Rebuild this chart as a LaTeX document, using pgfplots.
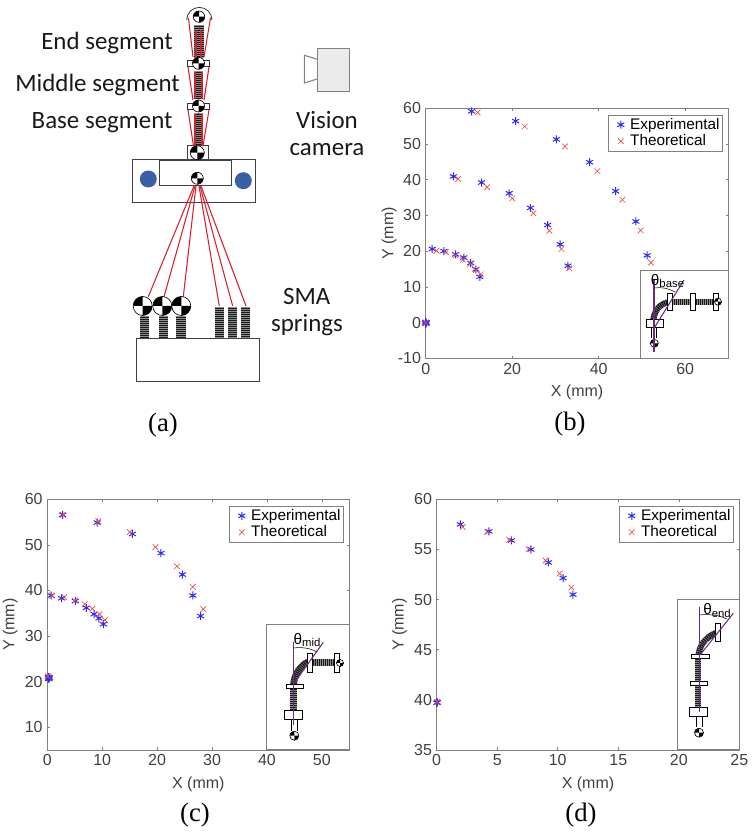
\documentclass[border=0pt]{standalone}
\usepackage{fontspec}
\setmainfont{Liberation Sans}
\newfontfamily\calibri{Carlito}
\newfontfamily\timesf{Liberation Serif}
\usepackage{pgfplots}
\pgfplotsset{compat=1.18}

\definecolor{axgray}{HTML}{808080}
\definecolor{ticktxt}{HTML}{404040}
\definecolor{expblue}{HTML}{2A2AF0}
\definecolor{thered}{HTML}{F04848}
\definecolor{sred}{HTML}{D8202C}
\definecolor{dotblue}{HTML}{3A5FA5}
\definecolor{purp}{HTML}{6B2A80}

\pgfplotsset{
  panel/.style={
    scale only axis,
    clip=false,
    axis line style={axgray,line width=0.6pt},
    tick style={axgray,line width=0.4pt},
    major tick length=2pt,
    tick align=inside,
    tick pos=both,
    /pgf/number format/assume math mode=true,
    tick label style={font=\fontsize{12}{12}\selectfont,text=ticktxt},
    label style={font=\fontsize{12}{12}\selectfont,text=ticktxt},
    xlabel={X (mm)},
    ylabel={Y (mm)},
    xlabel style={yshift=-1pt},
    ylabel style={yshift=-1.5pt},
    legend cell align=left,
    legend style={
      at={(0.981,0.975)},anchor=north east,
      draw=axgray,line width=0.5pt,
      font=\fontsize{11.5}{12}\selectfont,
      inner xsep=0pt,inner ysep=0.5pt,
      row sep=-1.5pt,
      /tikz/every even column/.append style={column sep=1pt},
    },
    legend image code/.code={
      \path[draw=none] (0pt,0pt) -- (14pt,0pt);
      \draw[##1,draw=none] plot coordinates {(9pt,0pt)};
    },
  },
  expm/.style={only marks,mark=asterisk,mark size=3pt,expblue,mark options={line width=0.75pt,draw=expblue}},
  them/.style={only marks,mark=x,mark size=3pt,thered,mark options={line width=0.5pt,draw=thered}},
}
\tikzset{
  coil/.style={line width=#1,black!90,postaction={draw,black!45,dash pattern=on 0.3pt off 1.2pt}},
  sk/.style={draw=black!75,line width=0.7pt},
}
% checker target: x y r
\newcommand{\chk}[3]{%
  \fill[white] (#1,#2) circle (#3);
  \fill[black] (#1,#2) -- ++(-#3,0) arc[start angle=180,end angle=270,radius=#3] -- cycle;
  \fill[black] (#1,#2) -- ++(#3,0) arc[start angle=0,end angle=90,radius=#3] -- cycle;
  \draw[black,line width=0.5pt] (#1,#2) circle (#3);
}

\begin{document}
\begin{tikzpicture}[x=0.75pt,y=0.75pt]
\path[use as bounding box] (0,0) rectangle (755,836);

% (b)
\begin{axis}[panel,at={(319.3pt,358.3pt)},anchor=south west,width=227pt,height=187.5pt,
  xmin=0,xmax=70,ymin=-10,ymax=60,xtick={0,20,40,60},ytick={-10,0,...,60},
  ylabel style={yshift=-4.5pt}]
\addplot[expm] coordinates {
  (0,-0.3) (0.1,0) (0,0.1) (0.1,-0.2)
  (1.5,20.6) (4.2,20.0) (6.9,19.1) (8.8,18.2) (10.4,16.7) (11.6,14.9) (12.5,12.8)
  (6.4,40.9) (12.9,39.2) (19.3,36.2) (24.2,32.1) (28.2,27.3) (31.1,21.9) (32.9,15.9)
  (10.6,59.15) (20.8,56.4) (30.2,51.3) (37.9,44.9) (43.9,36.8) (48.6,28.3) (51.2,18.8)
};
\addlegendentry{Experimental}
\addplot[them] coordinates {
  (0,0)
  (2.5,20.1) (4.7,19.7) (6.9,18.8) (8.6,17.6) (10.3,16.4) (11.6,14.7) (12.7,13.5)
  (7.5,40.2) (14.2,37.9) (20.0,34.8) (24.9,30.6) (28.6,25.7) (31.4,20.6) (33.2,15.2)
  (12.0,58.8) (22.9,54.9) (32.2,49.3) (39.7,42.4) (45.5,34.4) (49.7,25.8) (52.1,16.8)
};
\addlegendentry{Theoretical}
\end{axis}

% (c)
\begin{axis}[panel,at={(35.5pt,64.5pt)},anchor=south west,width=226.5pt,height=188pt,
  xmin=0,xmax=55,ymin=5,ymax=60,xtick={0,10,...,50},ytick={10,20,...,60}]
\addplot[expm] coordinates {
  (0.2,21.0) (0.3,20.6) (0.4,20.9) (0.2,20.7)
  (0.7,38.9) (2.6,38.3) (5.1,37.7) (7.1,36.2) (8.5,34.8) (9.4,33.9) (10.2,32.6)
  (2.8,56.6) (9.07,54.9) (15.5,52.4) (20.7,48.2) (24.6,43.5) (26.5,38.9) (27.9,34.4)
};
\addlegendentry{Experimental}
\addplot[them] coordinates {
  (0.1,21.2)
  (0.86,38.9) (3.1,38.5) (5.0,37.8) (6.8,37.0) (8.2,36.0) (9.5,34.8) (10.5,33.5)
  (2.8,56.6) (9.3,55.2) (15.0,52.8) (19.7,49.5) (23.6,45.3) (26.5,40.8) (28.4,35.9)
};
\addlegendentry{Theoretical}
\end{axis}

% (d)
\begin{axis}[panel,at={(327.5pt,64.5pt)},anchor=south west,width=227pt,height=188pt,
  xmin=0,xmax=25,ymin=35,ymax=60,xtick={0,5,...,25},ytick={35,40,...,60}]
\addplot[expm] coordinates {
  (0.02,39.7) (0.05,39.75)
  (1.95,57.5) (4.32,56.8) (6.17,55.9) (7.79,55.0) (9.23,53.7) (10.44,52.15) (11.26,50.5)
};
\addlegendentry{Experimental}
\addplot[them] coordinates {
  (0.05,39.8)
  (2.15,57.24) (4.18,56.74) (6.0,55.97) (7.6,55.04) (9.0,53.9) (10.16,52.6) (11.13,51.2)
};
\addlegendentry{Theoretical}
\end{axis}

% everything below uses reference pixel coordinates
\begin{scope}[shift={(0,836)},yscale=-1]

% insets
\begin{scope}[line width=0.6pt]
  % base
  \draw[axgray,fill=white] (640,270.7) rectangle (728.3,358.3);
  \draw[black,line width=0.4pt] (651.5,328) -- (651.5,338) (656.5,328) -- (656.5,338);
  \draw[coil=4.5pt] (653,322) .. controls (654,311) and (659,304) .. (669,302);
  \draw[coil=4.5pt] (669,301.7) -- (716,301.7);
  \foreach \xx in {669.3,692.3,716}{\draw[black,fill=white,line width=0.4pt] (\xx-2.5,293.7) rectangle (\xx+2.5,310.5);}
  \draw[black,fill=white,line width=0.5pt] (646.7,319.3) rectangle (663.3,327.3);
  \chk{718}{301.7}{3.5}
  \chk{654.3}{343.3}{4}
  \draw[purp,line width=0.8pt] (654,280) -- (654,351.7);
  \draw[purp,line width=0.8pt] (655,326.7) -- (684,280);
  \draw[black,line width=0.4pt] (654,288) .. controls (661,287) and (668,288) .. (675,292);
  \node[font=\fontsize{11.5}{12}\selectfont,black] at (667.5,281) {θ\raisebox{-2pt}{\fontsize{8.5}{9}\selectfont base}};

  % mid
  \draw[axgray,fill=white] (266,624.3) rectangle (349.3,749.7);
  \draw[black,line width=0.4pt] (291,720) -- (291,731) (297,720) -- (297,731);
  \draw[coil=5pt] (293.5,718) -- (293.5,688);
  \draw[coil=5pt] (293.5,685) .. controls (294,675) and (300,665) .. (310,661);
  \draw[coil=5pt] (310,662.5) -- (336,662.5);
  \draw[black,fill=white,line width=0.5pt] (284,710.7) rectangle (302,719.3);
  \draw[black,fill=white,line width=0.4pt] (286,684.3) rectangle (303.3,688.3);
  \draw[black,fill=white,line width=0.4pt] (307,653) rectangle (312,672);
  \draw[black,fill=white,line width=0.4pt] (334,653) rectangle (339,672);
  \chk{340}{663}{3.5}
  \chk{294.3}{735.7}{4.5}
  \draw[purp,line width=0.8pt] (293.3,641.7) -- (293.3,725);
  \draw[purp,line width=0.8pt] (294.3,683) -- (323.3,642.3);
  \draw[black,line width=0.4pt] (293.5,648) .. controls (302,647) and (310,648) .. (317,652);
  \node[font=\fontsize{11.5}{12}\selectfont,black] at (307,640) {θ\raisebox{-2pt}{\fontsize{8.5}{9}\selectfont mid}};

  % end
  \draw[axgray,fill=white] (677.7,599.3) rectangle (739.5,749.7);
  \draw[black,line width=0.4pt] (696,716) -- (696,727) (702,716) -- (702,727);
  \draw[coil=4.5pt] (698,708) -- (698,658);
  \draw[coil=4.5pt] (698.5,656) .. controls (699,645) and (707,635) .. (720,631.5);
  \draw[black,fill=white,line width=0.5pt] (689,707.3) rectangle (707.3,716);
  \draw[black,fill=white,line width=0.4pt] (691.7,654) rectangle (709.3,658.3);
  \draw[black,fill=white,line width=0.4pt] (690,681) rectangle (707.3,685);
  \draw[black,fill=white,line width=0.4pt] (715.5,623) rectangle (720,641.7);
  \chk{699}{732.7}{4.5}
  \draw[purp,line width=0.8pt] (699.3,606.7) -- (699.3,711.7);
  \draw[purp,line width=0.8pt] (700,655) -- (733.3,613.3);
  \draw[black,line width=0.4pt] (699.5,615) .. controls (709,614) and (719,615) .. (727,619);
  \node[font=\fontsize{11.5}{12}\selectfont,black] at (717,610.7) {θ\raisebox{-2pt}{\fontsize{8.5}{9}\selectfont end}};
\end{scope}

% schematic (a)
\draw[sk] (132.7,159.3) rectangle (255,202.3);
\draw[sk] (159.3,160.7) rectangle (231.3,185.7);
\fill[dotblue] (148.3,179) circle (8.5);
\fill[dotblue] (243.3,180.7) circle (8.5);
\draw[sk,line width=1pt] (187.3,145.3) rectangle (208.7,160);
\chk{197.3}{152.7}{7}
\chk{197.3}{178.3}{6}

% wires to the springs
\begin{scope}[sred,line width=0.8pt]
  \draw (194,186) -- (148.3,296.7);
  \draw (195,186) -- (164,296.7);
  \draw (196,186) -- (183.3,296.7);
  \draw (199,186) -- (219.3,306);
  \draw (200,186) -- (232.7,306);
  \draw (201,186) -- (246,306);
\end{scope}

\draw[sk] (136.7,338) rectangle (259.3,381);
\foreach \xx in {144.7,163.3,181}{\draw[coil=6.8pt] (\xx,316) -- (\xx,338);}
\foreach \xx in {219.3,232.3,245.3}{\draw[coil=6.8pt] (\xx,306.7) -- (\xx,338);}
\chk{142.7}{306}{9.5}
\chk{162.3}{306}{9.5}
\chk{181.3}{306}{9.5}

% robot column
\draw[coil=7.5pt] (198.5,25) -- (198.5,58);
\draw[coil=7pt] (198.5,71) -- (198.5,99);
\draw[coil=7pt] (198.5,113) -- (198.5,145);
\begin{scope}[sred,line width=0.8pt]
  \draw (188.5,18) -- (193,57) (210.5,18) -- (204,57);
  \draw (188,67) -- (193,100) (209,67) -- (204,100);
  \draw (188,110) -- (193.5,146) (209,110) -- (203,146);
  \draw (195,72) -- (195,99) (202,72) -- (202,99);
  \draw (195,114) -- (195,145) (202,114) -- (202,145);
  \draw (196,30) -- (196,57) (201,30) -- (201,57);
\end{scope}
\draw[black!80,line width=0.6pt] (186.7,20) arc[start angle=180,end angle=360,radius=12.6];
\chk{199}{16.7}{5.7}
\foreach \yy in {60.7,103.7}{
  \draw[black!80,line width=0.5pt] (187.3,\yy) rectangle (209.7,\yy+5.5);
}
\chk{198.5}{63.3}{6}
\chk{198.5}{106}{6}

% camera
\draw[axgray,fill=white,line width=0.8pt] (317.3,59.3) -- (304.3,55.3) -- (304.3,83) -- (317.3,79);
\draw[axgray,fill=black!8,line width=0.8pt] (317.3,48.3) rectangle (349.3,91.3);

% schematic labels
\begin{scope}[every node/.style={font=\calibri\fontsize{18.7}{20}\selectfont,text=black!90,inner sep=0pt}]
  \node[anchor=base east] at (173,50) {End segment};
  \node[anchor=base east] at (180,91.7) {Middle segment};
  \node[anchor=base east] at (172.7,129) {Base segment};
  \node[anchor=base] at (327,128.3) {Vision};
  \node[anchor=base] at (327,156) {camera};
  \node[anchor=base] at (306.7,304.3) {SMA};
  \node[anchor=base] at (307,331.7) {springs};
\end{scope}

% panel letters
\begin{scope}[every node/.style={font=\timesf\fontsize{20}{22}\selectfont,inner sep=0pt}]
  \node at (163,425) {(a)};
  \node at (570,424) {(b)};
  \node at (195,815) {(c)};
  \node at (581,815) {(d)};
\end{scope}
\end{scope}
\end{tikzpicture}
\end{document}
